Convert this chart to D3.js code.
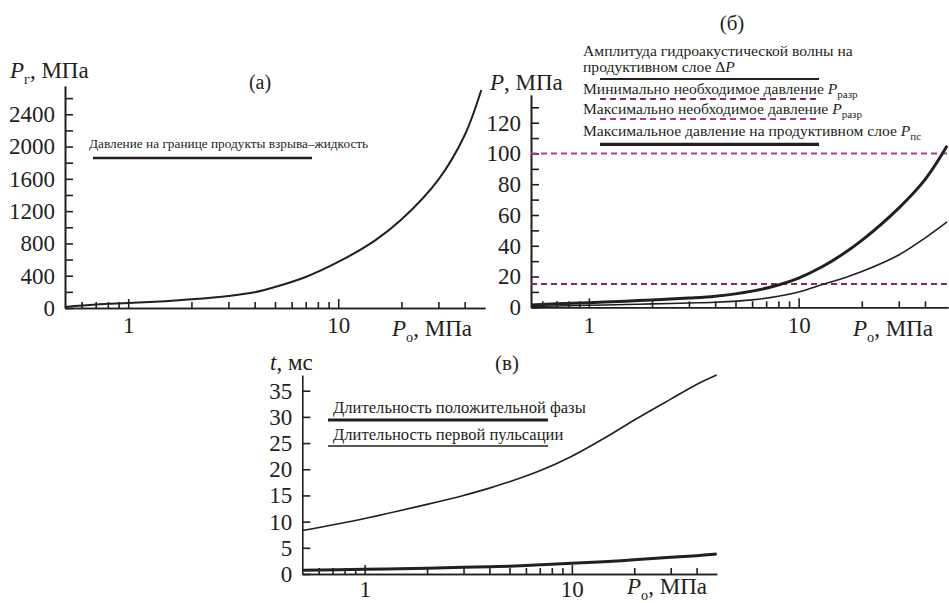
<!DOCTYPE html>
<html>
<head>
<meta charset="utf-8">
<script src="https://cdn.jsdelivr.net/npm/d3@7"></script>
<style>
  body { margin: 0; background: #fff; }
  svg { display: block; }
</style>
</head>
<body>
<div id="chart"></div>
<script>
// (а) давление на границе продукты взрыва - жидкость
var p0A = [0.5, 0.7, 1, 1.5, 2, 3, 4, 5, 7, 10, 15, 20, 30, 40, 48];
var pgA = [12, 42, 62, 85, 108, 150, 195, 260, 384, 570, 838, 1095, 1590, 2140, 2700];

// (б) давления на продуктивном слое
var p0B = [0.53, 0.7, 1, 1.5, 2, 3, 4, 6, 8, 10, 13, 16, 20, 30, 40, 51];
var ppsB = [1.5, 2.3, 3, 4, 4.8, 6, 7.2, 10.5, 14.5, 19, 26.5, 34, 43.5, 64.5, 83, 105];
var dpB = [0.5, 0.8, 1.3, 1.8, 2.2, 2.8, 3.3, 4.8, 7.2, 10, 14.8, 18.5, 23.2, 34, 45, 55.5];
var pRazr = [15.2, 100];

// (в) длительности
var p0C = [0.5, 1, 2, 3, 4, 5, 7, 10, 15, 20, 30, 40, 50];
var tPulse = [8.3, 10.6, 13.3, 15, 16.4, 17.6, 19.7, 22.5, 26.4, 29.4, 33.4, 36.2, 38];
var tPos = [0.7, 0.9, 1.1, 1.3, 1.4, 1.5, 1.75, 2.05, 2.4, 2.7, 3.2, 3.5, 3.8];

var yTicksA = [0, 400, 800, 1200, 1600, 2000, 2400];
var yTicksB = [0, 20, 40, 60, 80, 100, 120];
var yTicksC = [0, 5, 10, 15, 20, 25, 30, 35];
var xMajor = [1, 10];
var xMinor = [0.6, 0.7, 0.8, 0.9, 2, 3, 4, 5, 6, 7, 8, 9, 20, 30, 40];

var width = 949, height = 603;
var ink = "#231f20";
var serif = "'Liberation Serif'";

var svg = d3.select("#chart").append("svg")
    .attr("width", width)
    .attr("height", height)
    .style("font-family", serif);

function drawAxes(x, y, yTicks, yMinor, pad) {
  var g = svg.append("g");
  var x0 = x.range()[0], y0 = y.range()[0];

  // ось x: метки внутрь
  g.append("g").attr("class", "axis")
      .attr("transform", "translate(0," + y0 + ")")
      .call(d3.axisBottom(x).tickValues(xMinor).tickFormat("").tickSizeInner(-6).tickSizeOuter(0));
  g.append("g").attr("class", "axis")
      .attr("transform", "translate(0," + y0 + ")")
      .call(d3.axisBottom(x).tickValues(xMajor).tickFormat(d3.format("d")).tickSizeInner(-9).tickSizeOuter(0).tickPadding(pad));

  // ось y
  if (yMinor) {
    g.append("g").attr("class", "axis")
        .attr("transform", "translate(" + x0 + ",0)")
        .call(d3.axisLeft(y).tickValues(yMinor).tickFormat("").tickSizeInner(-8).tickSizeOuter(0));
  }
  g.append("g").attr("class", "axis")
      .attr("transform", "translate(" + x0 + ",0)")
      .call(d3.axisLeft(y).tickValues(yTicks).tickFormat(d3.format("d")).tickSizeInner(-8).tickSizeOuter(0).tickPadding(10));

  g.selectAll(".axis").attr("font-family", null).attr("font-size", null);
  g.selectAll(".axis path, .axis line").attr("stroke", ink).attr("stroke-width", 1.6);
  g.selectAll(".axis text")
      .style("font-family", serif)
      .style("font-size", "23px")
      .attr("fill", ink);
}

function drawCurve(x, y, xs, ys, w) {
  var line = d3.line()
      .x(function(d) { return x(d[0]); })
      .y(function(d) { return y(d[1]); })
      .curve(d3.curveCatmullRom.alpha(0.5));
  svg.append("path")
      .datum(d3.zip(xs, ys))
      .attr("fill", "none")
      .attr("stroke", ink)
      .attr("stroke-width", w)
      .attr("d", line);
}

// подпись вида P_sub, МПа
function label(xp, yp, main, sub, rest, size, italic) {
  var t = svg.append("text").attr("x", xp).attr("y", yp)
      .attr("fill", ink)
      .style("font-family", serif)
      .style("font-size", size + "px");
  t.append("tspan").style("font-style", italic ? "italic" : "normal").text(main);
  if (sub) t.append("tspan").attr("dy", size * 0.25).style("font-size", (size * 0.62) + "px").text(sub);
  t.append("tspan").attr("dy", sub ? -size * 0.25 : 0).text(rest);
  return t;
}

function plainText(xp, yp, str, size, anchor) {
  return svg.append("text").attr("x", xp).attr("y", yp)
      .attr("text-anchor", anchor || "start")
      .attr("fill", ink)
      .style("font-family", serif)
      .style("font-size", size + "px").text(str);
}

function legendLine(x1, x2, yy, w, color, dash) {
  svg.append("line")
      .attr("x1", x1).attr("x2", x2).attr("y1", yy).attr("y2", yy)
      .attr("stroke", color).attr("stroke-width", w)
      .attr("stroke-dasharray", dash || null);
}

// ---------- (а) ----------
var xA = d3.scaleLog().domain([0.5, 50]).range([65, 485]);
var yA = d3.scaleLinear().domain([0, 2750]).range([308, 86]);
drawAxes(xA, yA, yTicksA, [200, 600, 1000, 1400, 1800, 2200, 2600], 9);
drawCurve(xA, yA, p0A, pgA, 2);
label(10, 78, "P", "г", ", МПа", 23, true);
plainText(260, 89, "(а)", 20, "middle");
plainText(89, 148, "Давление на границе продукты взрыва–жидкость", 13.3);
legendLine(93, 312, 158, 2.5, ink);
label(392, 336, "P", "o", ", МПа", 23, true);

// ---------- (б) ----------
var xB = d3.scaleLog().domain([0.53, 51.5]).range([531, 948]);
var yB = d3.scaleLinear().domain([0, 138]).range([307.3, 95]);
drawAxes(xB, yB, yTicksB, [10, 30, 50, 70, 90, 110, 130], 9);
var dashColors = ["#8e2468", "#b0399a"];
pRazr.forEach(function(v, i) {
  svg.append("line")
      .attr("x1", xB.range()[0]).attr("x2", xB.range()[1])
      .attr("y1", yB(v)).attr("y2", yB(v))
      .attr("stroke", dashColors[i]).attr("stroke-width", 2)
      .attr("stroke-dasharray", "6,4");
});
drawCurve(xB, yB, p0B, dpB, 1.6);
drawCurve(xB, yB, p0B, ppsB, 3);
plainText(732, 30, "(б)", 21, "middle");
label(490, 90, "P", null, ", МПа", 23, true);

var lg = 15.6, sb = "11px";
plainText(583, 56, "Амплитуда гидроакустической волны на", lg);
var t2 = plainText(583, 72, "продуктивном слое Δ", lg);
t2.append("tspan").style("font-style", "italic").text("P");
legendLine(600, 819, 79, 2, ink);
var t3 = plainText(583, 94, "Минимально необходимое давление ", lg);
t3.append("tspan").style("font-style", "italic").text("P");
t3.append("tspan").attr("dy", 4).style("font-size", sb).text("разр");
legendLine(600, 819, 99, 2, dashColors[0], "6,4");
var t4 = plainText(583, 114, "Максимально необходимое давление ", lg);
t4.append("tspan").style("font-style", "italic").text("P");
t4.append("tspan").attr("dy", 4).style("font-size", sb).text("разр");
legendLine(600, 819, 119, 2, dashColors[1], "6,4");
var t5 = plainText(583, 136, "Максимальное давление на продуктивном слое ", lg);
t5.append("tspan").style("font-style", "italic").text("P");
t5.append("tspan").attr("dy", 4).style("font-size", sb).text("пс");
legendLine(600, 819, 144.3, 3.2, ink);
label(853, 336, "P", "o", ", МПа", 23, true);

// ---------- (в) ----------
var xC = d3.scaleLog().domain([0.5, 50]).range([302.3, 716.7]);
var yC = d3.scaleLinear().domain([0, 38]).range([574, 375]);
drawAxes(xC, yC, yTicksC, null, 7);
drawCurve(xC, yC, p0C, tPulse, 1.6);
drawCurve(xC, yC, p0C, tPos, 3);
label(270, 370, "t", null, ", мс", 23, true);
plainText(507, 370, "(в)", 21, "middle");
plainText(333, 413, "Длительность положительной фазы", 16.6);
legendLine(328, 548, 420, 3.2, ink);
plainText(333, 440, "Длительность первой пульсации", 16.6);
legendLine(328, 548, 446, 1.5, ink);
label(627, 594, "P", "o", ", МПа", 23, true);
</script>
</body>
</html>
